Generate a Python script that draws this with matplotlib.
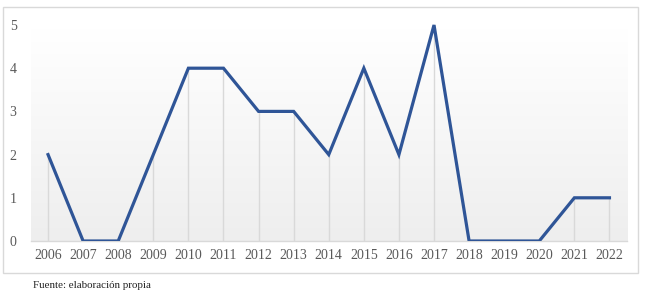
import numpy as np
import matplotlib.pyplot as plt
from matplotlib.colors import LinearSegmentedColormap
from matplotlib.patches import Rectangle

# datos
years = [2006, 2007, 2008, 2009, 2010, 2011, 2012, 2013, 2014,
         2015, 2016, 2017, 2018, 2019, 2020, 2021, 2022]
values = [2, 0, 0, 2, 4, 4, 3, 3, 2, 4, 2, 5, 0, 0, 0, 1, 1]
y_ticks = [0, 1, 2, 3, 4, 5]

fig = plt.figure(figsize=(6.49, 3.0), dpi=100)
ax = fig.add_axes([30.5 / 649, 59 / 300, 596.5 / 649, 233 / 300])

x = np.arange(len(years))
ytop = 233 / 43.2

# fondo degradado (blanco arriba, gris abajo)
cmap = LinearSegmentedColormap.from_list("bg", ["#ffffff", "#eeeeee"])
grad = np.linspace(0, 1, 256).reshape(-1, 1)
ax.imshow(grad, cmap=cmap, aspect="auto", extent=[-0.5, len(years) - 0.5, 0, 4.9],
          zorder=0, vmin=0, vmax=1)

# líneas de caída
ax.vlines(x, 0, values, color="#d9d9d9", lw=1, zorder=1)
ax.plot(x, values, color="#2f5597", lw=2.3, solid_joinstyle="miter", zorder=3)

ax.set_xlim(-0.5, len(years) - 0.5)
ax.set_ylim(0, ytop)
ax.set_xticks(x)
ax.set_xticklabels([str(y) for y in years])
ax.set_yticks(y_ticks)

for s in ["top", "right", "left"]:
    ax.spines[s].set_visible(False)
ax.spines["bottom"].set_color("#d9d9d9")
ax.spines["bottom"].set_linewidth(1)
ax.tick_params(length=0, labelsize=10, labelcolor="#595959")
ax.tick_params(axis="x", pad=6)
ax.tick_params(axis="y", pad=10)
for lab in ax.get_xticklabels() + ax.get_yticklabels():
    lab.set_fontfamily("Liberation Serif")

# marco exterior
fig.patches.append(Rectangle((3 / 649, 1 - 273 / 300), 635 / 649, 266 / 300,
                             transform=fig.transFigure, fill=False,
                             edgecolor="#d9d9d9", lw=1))

fig.text(33 / 649, 1 - 285 / 300, "Fuente: elaboración propia", fontsize=7.9,
         family="Liberation Serif", color="#222222", va="center")

fig.savefig("out.png", dpi=100)
